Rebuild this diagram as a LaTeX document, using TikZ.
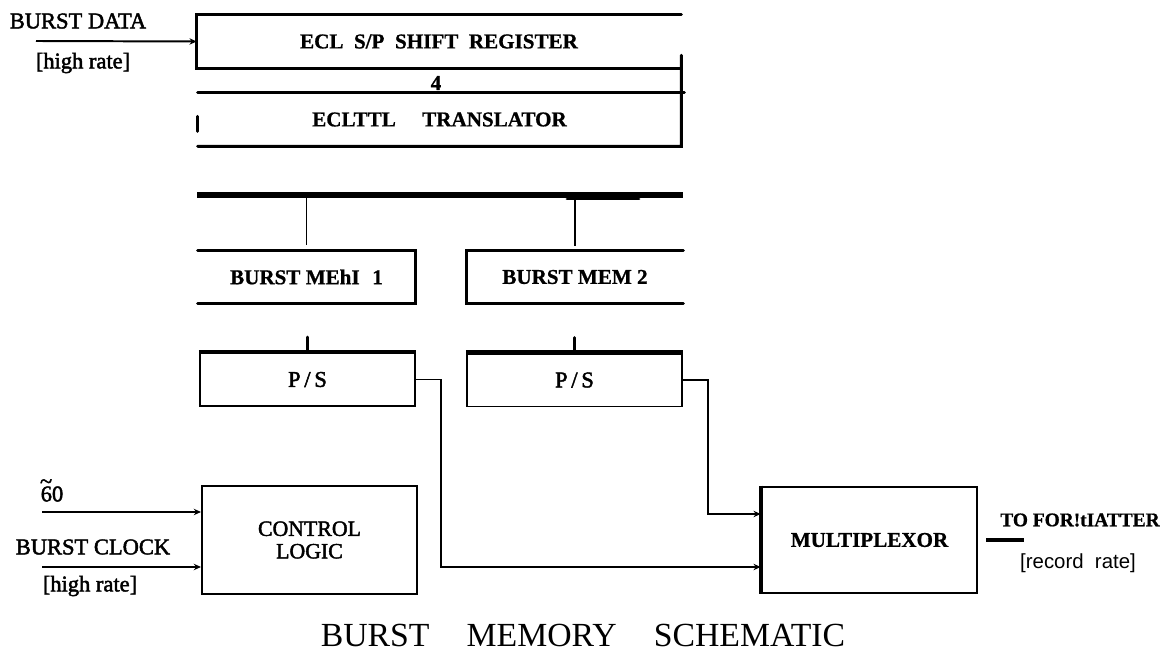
\documentclass[tikz,border=0pt]{standalone}
\usepackage{fontspec}
\setmainfont{Liberation Serif}[BoldFeatures={FakeBold=0.8}]
\setsansfont{Liberation Sans}
\newfontfamily\medfont{Liberation Serif}[FakeBold=2]
\usepackage{tikz}
\usetikzlibrary{arrows.meta,positioning}

\begin{document}
\begin{tikzpicture}[
  x=0.025cm,y=-0.025cm,
  n/.style={minimum height=1.325cm,inner sep=0pt,font=\bfseries\fontsize{15}{18}\selectfont},
  lb/.style={inner sep=0pt,font=\bfseries\fontsize{15}{18}\selectfont},
  lm/.style={inner sep=0pt,font=\medfont\fontsize{16}{18}\selectfont},
  e/.style={line width=2.1pt,line cap=round},
  w/.style={line width=1.4pt},
  a/.style={-{Stealth[length=1.8mm,width=1.6mm]},line width=1.4pt}
]
\useasboundingbox (0,0) rectangle (1160,655);
% shift register and translator
\node[n,minimum width=12.1cm] (sr) at (439,41.5) {ECL\ \ S/P\ \ SHIFT\ \ REGISTER};
\node[n,minimum width=12.075cm] (tr) at (439.5,119.5) {ECLTTL\hspace{1.25em}TRANSLATOR};
\draw[e] (sr.north east) -- (sr.north west) -- (sr.south west) -- (sr.south east);
\draw[e] ([yshift=0.325cm]sr.south east) -- (tr.south east) -- (tr.south west);
\draw[e] (tr.north west) -- ([xshift=0.075cm]tr.north east);
\draw[e] ([yshift=0.08cm]tr.west) -- ([yshift=-0.3cm]tr.west);
\node[lb,font=\bfseries\fontsize{15}{16}\selectfont] (d4) at (436,83) {4};
% bus
\coordinate (bw) at (197,195);
\coordinate (be) at (683,195);
\draw[line width=4.3pt] (bw) -- (be);
\draw[e] (bw) ++(370,4) -- ++(72,0);
% memories
\node[n,minimum width=5.425cm,minimum height=1.3cm] (m1) at (306.5,277) {BURST MEhI\hspace{0.6em}1};
\node[n,minimum width=5.4cm,minimum height=1.3cm] (m2) at (575,277) {BURST MEM 2};
\draw[e] (m1.north west) -- (m1.north east) -- (m1.south east) -- (m1.south west);
\draw[e] (m2.north east) -- (m2.north west) -- (m2.south west) -- (m2.south east);
\draw[w] (bw -| m1.north) -- ([yshift=0.15cm]m1.north);
\draw[w] (bw -| m2.north) -- ([yshift=0.125cm]m2.north);
% P/S converters
\node[n,draw,w,minimum width=5.375cm,font=\medfont\fontsize{16}{18}\selectfont] (ps1) at (307.5,379.5) {P\,/\,S};
\node[n,draw,w,minimum width=5.375cm,font=\medfont\fontsize{16}{18}\selectfont] (ps2) at (574.5,380) {P\,/\,S};
\draw[line width=3pt] (ps1.north west) -- (ps1.north east);
\draw[line width=3pt] (ps2.north west) -- (ps2.north east);
\draw[e] (ps1.north) -- ([yshift=0.375cm]ps1.north);
\draw[e] (ps2.north) -- ([yshift=0.375cm]ps2.north);
% control and multiplexor
\node[draw,w,minimum width=5.375cm,minimum height=2.7cm,align=center,font=\medfont\fontsize{15.5}{16}\selectfont] (cl) at (309.5,540) {CONTROL\\LOGIC};
\node[draw,line width=1.8pt,minimum width=5.375cm,minimum height=2.65cm,font=\bfseries\fontsize{15}{18}\selectfont] (mux) at (869.5,540) {MULTIPLEXOR};
\draw[line width=3pt] (mux.north west) -- (mux.south west);
% inputs
\coordinate (d0) at (36,41);
\coordinate (c0) at (42,512);
\coordinate (k0) at (42,567);
\draw[a] (d0) -- (sr.west);
\draw[a] (c0) -- (c0 -| cl.west);
\draw[a] (k0) -- (k0 -| cl.west);
\draw[a] (ps1.east) -- ++(25,0) |- ([yshift=-0.675cm]mux.west);
\draw[a] (ps2.east) -- ++(25,0) |- ([yshift=0.65cm]mux.west);
\draw[line width=3pt] ([xshift=0.2cm]mux.east) -- ++(38,0);
% labels
\node[lm] (bd) at (78,21) {BURST DATA};
\node[lm] (hr1) at (83,63) {[high rate]};
\node[lm] (sx) at (52,494) {60};
\node[lm,anchor=south] (tl) at ([xshift=0.14cm,yshift=-0.07cm]sx.north west) {\textasciitilde};
\node[lm] (bc) at (93,547) {BURST CLOCK};
\node[lm] (hr2) at (90,586) {[high rate]};
\node[lb,font=\bfseries\fontsize{13.8}{16}\selectfont] (tf) at (1080,520) {TO FOR!tIATTER};
\node[inner sep=0pt,font=\sffamily\fontsize{14.5}{16}\selectfont] (rr) at (1078,563) {[record\ \ rate]};
\node[inner sep=0pt,font=\fontsize{24}{28}\selectfont] (cap) at (583,635) {BURST\hspace{1.1em}MEMORY\hspace{1.1em}SCHEMATIC};
\end{tikzpicture}
\end{document}
